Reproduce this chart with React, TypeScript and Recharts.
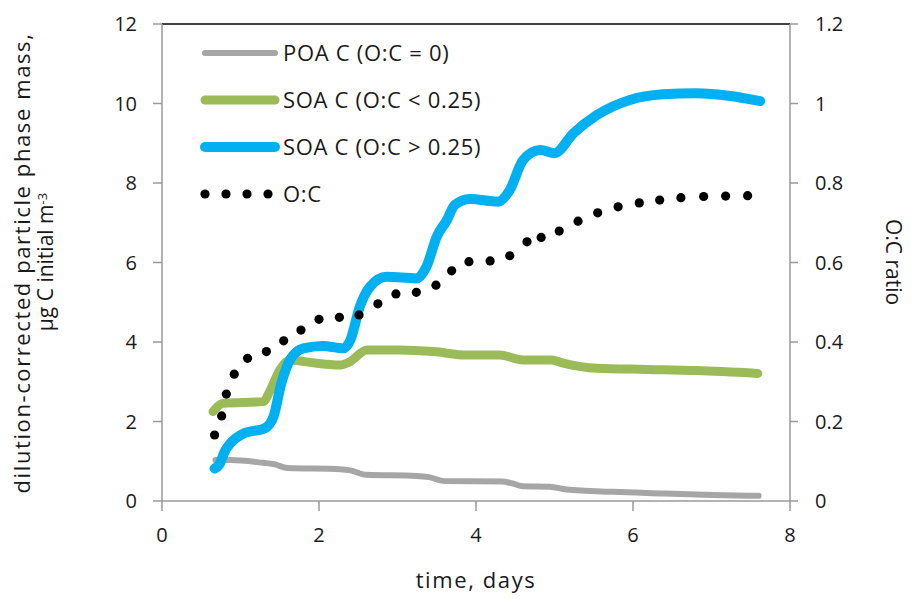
import React from 'react';
import {
  ComposedChart,
  Line,
  Scatter,
  XAxis,
  YAxis,
  ReferenceLine,
} from 'recharts';

// time axis, days
const poaDays = [0.68, 0.87, 1.29, 1.42, 1.6, 2.27, 2.4, 2.6, 3.24, 3.4, 3.6, 4.33, 4.45, 4.6, 4.94, 5.15, 5.75, 6.39, 7.02, 7.6];
const poaMass = [1.03, 1.03, 0.96, 0.93, 0.83, 0.8, 0.77, 0.66, 0.63, 0.6, 0.5, 0.49, 0.45, 0.37, 0.36, 0.29, 0.23, 0.19, 0.15, 0.13];

const lowDays = [0.65, 0.78, 1.29, 1.38, 1.5, 1.63, 1.84, 2.27, 2.39, 2.61, 3.03, 3.46, 3.88, 4.3, 4.6, 4.96, 5.11, 5.54, 6.17, 6.81, 7.59];
const lowMass = [2.25, 2.46, 2.5, 2.79, 3.3, 3.55, 3.5, 3.42, 3.5, 3.8, 3.8, 3.76, 3.67, 3.67, 3.55, 3.55, 3.47, 3.34, 3.31, 3.28, 3.21];

const highDays = [0.67, 0.73, 0.8, 0.87, 1.04, 1.31, 1.42, 1.52, 1.63, 1.8, 2.05, 2.31, 2.4, 2.52, 2.65, 2.86, 3.24, 3.37, 3.5, 3.63, 3.73, 3.92, 4.28, 4.43, 4.6, 4.82, 5.0, 5.24, 5.54, 5.96, 6.38, 6.81, 7.24, 7.62];
const highMass = [0.82, 0.92, 1.25, 1.45, 1.7, 1.83, 2.12, 2.96, 3.55, 3.84, 3.9, 3.84, 4.05, 4.89, 5.39, 5.64, 5.6, 5.9, 6.65, 7.07, 7.45, 7.6, 7.53, 7.82, 8.58, 8.83, 8.75, 9.25, 9.71, 10.09, 10.23, 10.26, 10.19, 10.06];

const ocDays = [0.67, 0.76, 0.82, 0.92, 1.09, 1.33, 1.55, 1.77, 2.0, 2.26, 2.51, 2.75, 2.98, 3.24, 3.49, 3.69, 3.91, 4.18, 4.43, 4.65, 4.83, 5.06, 5.3, 5.55, 5.81, 6.08, 6.34, 6.61, 6.9, 7.18, 7.46];
const ocRatio = [0.166, 0.214, 0.269, 0.319, 0.359, 0.376, 0.403, 0.43, 0.457, 0.462, 0.468, 0.496, 0.521, 0.525, 0.543, 0.579, 0.602, 0.604, 0.617, 0.652, 0.663, 0.679, 0.704, 0.725, 0.74, 0.75, 0.757, 0.763, 0.766, 0.767, 0.768];

const xTicks = [0, 2, 4, 6, 8];
const massTicks = [0, 2, 4, 6, 8, 10, 12];
const ratioTicks = [0, 0.2, 0.4, 0.6, 0.8, 1, 1.2];

const legendItems = [
  { label: 'POA C (O:C = 0)', color: '#A6A6A6', width: 6, dotted: false },
  { label: 'SOA C (O:C < 0.25)', color: '#9BBB59', width: 9, dotted: false },
  { label: 'SOA C (O:C > 0.25)', color: '#00B0F0', width: 10, dotted: false },
  { label: 'O:C', color: '#000000', width: 9, dotted: true },
];

const zip = (xs: number[], ys: number[]) => xs.map((x, i) => ({ x, y: ys[i] }));

const FONT = '"Open Sans", Lato, sans-serif';
const TEXT = '#1a1a1a';
const AXIS = '#9a9a9a';

export default function App() {
  const tickStyle = { fill: TEXT, fontSize: 20, fontFamily: FONT };

  return (
    <div style={{ position: 'absolute', left: 0, top: 0, width: 916, height: 599, background: '#fff' }}>
      <ComposedChart width={916} height={599} margin={{ top: 24, right: 0, bottom: 0, left: 0 }}>
        <XAxis
          type="number"
          dataKey="x"
          domain={[0, 8]}
          ticks={xTicks}
          height={98}
          stroke={AXIS}
          strokeWidth={1.5}
          tickSize={10}
          tickMargin={17}
          tick={tickStyle}
        />
        <YAxis
          yAxisId="left"
          type="number"
          domain={[0, 12]}
          ticks={massTicks}
          width={162}
          stroke={AXIS}
          strokeWidth={1.5}
          tickSize={9}
          tickMargin={16}
          tick={tickStyle}
        />
        <YAxis
          yAxisId="right"
          orientation="right"
          type="number"
          domain={[0, 1.2]}
          ticks={ratioTicks}
          width={126}
          stroke={AXIS}
          strokeWidth={1.5}
          tickSize={8}
          tickMargin={17}
          tick={{ ...tickStyle, textAnchor: 'start' }}
          tickFormatter={(v: number) => String(Number(v.toFixed(1)))}
        />
        <ReferenceLine yAxisId="left" y={12} stroke="#000" strokeWidth={1.5} />
        <Line
          yAxisId="left"
          data={zip(poaDays, poaMass)}
          dataKey="y"
          type="monotone"
          stroke="#A6A6A6"
          strokeWidth={6}
          strokeLinecap="round"
          dot={false}
          isAnimationActive={false}
        />
        <Line
          yAxisId="left"
          data={zip(lowDays, lowMass)}
          dataKey="y"
          type="monotone"
          stroke="#9BBB59"
          strokeWidth={9}
          strokeLinecap="round"
          dot={false}
          isAnimationActive={false}
        />
        <Line
          yAxisId="left"
          data={zip(highDays, highMass)}
          dataKey="y"
          type="monotone"
          stroke="#00B0F0"
          strokeWidth={10}
          strokeLinecap="round"
          dot={false}
          isAnimationActive={false}
        />
        <Scatter
          yAxisId="right"
          data={zip(ocDays, ocRatio)}
          dataKey="y"
          fill="#000"
          shape={(p: any) => <circle cx={p.cx} cy={p.cy} r={4.6} fill="#000" />}
          isAnimationActive={false}
        />
      </ComposedChart>

      <svg width={916} height={599} style={{ position: 'absolute', left: 0, top: 0, pointerEvents: 'none' }}>
        {/* legend */}
        {legendItems.map((item, i) => {
          const y = 53 + i * 47;
          return (
            <g key={item.label}>
              {item.dotted ? (
                [205, 226, 247, 268].map((cx) => <circle key={cx} cx={cx} cy={y} r={4.6} fill="#000" />)
              ) : (
                <line x1={205} x2={275} y1={y} y2={y} stroke={item.color} strokeWidth={item.width} strokeLinecap="round" />
              )}
              <text x={283} y={y} dy="0.35em" fontSize={22} letterSpacing={0.7} fontFamily={FONT} fill={TEXT}>
                {item.label}
              </text>
            </g>
          );
        })}
        {/* axis titles */}
        <text x={476} y={580} dy="0.35em" textAnchor="middle" fontSize={22} letterSpacing={1.6} fontFamily={FONT} fill={TEXT}>
          time, days
        </text>
        <text transform="translate(22,263) rotate(-90)" dy="0.35em" textAnchor="middle" fontSize={22} letterSpacing={1.6} fontFamily={FONT} fill={TEXT}>
          dilution-corrected particle phase mass,
        </text>
        <text transform="translate(46,262) rotate(-90)" dy="0.35em" textAnchor="middle" fontSize={21} fontFamily={FONT} fill={TEXT}>
          μg C initial m<tspan dy="-0.5em" fontSize={13}>-3</tspan>
        </text>
        <text transform="translate(893,262) rotate(90)" dy="0.35em" textAnchor="middle" fontSize={21} fontFamily={FONT} fill={TEXT}>
          O:C ratio
        </text>
      </svg>
    </div>
  );
}
